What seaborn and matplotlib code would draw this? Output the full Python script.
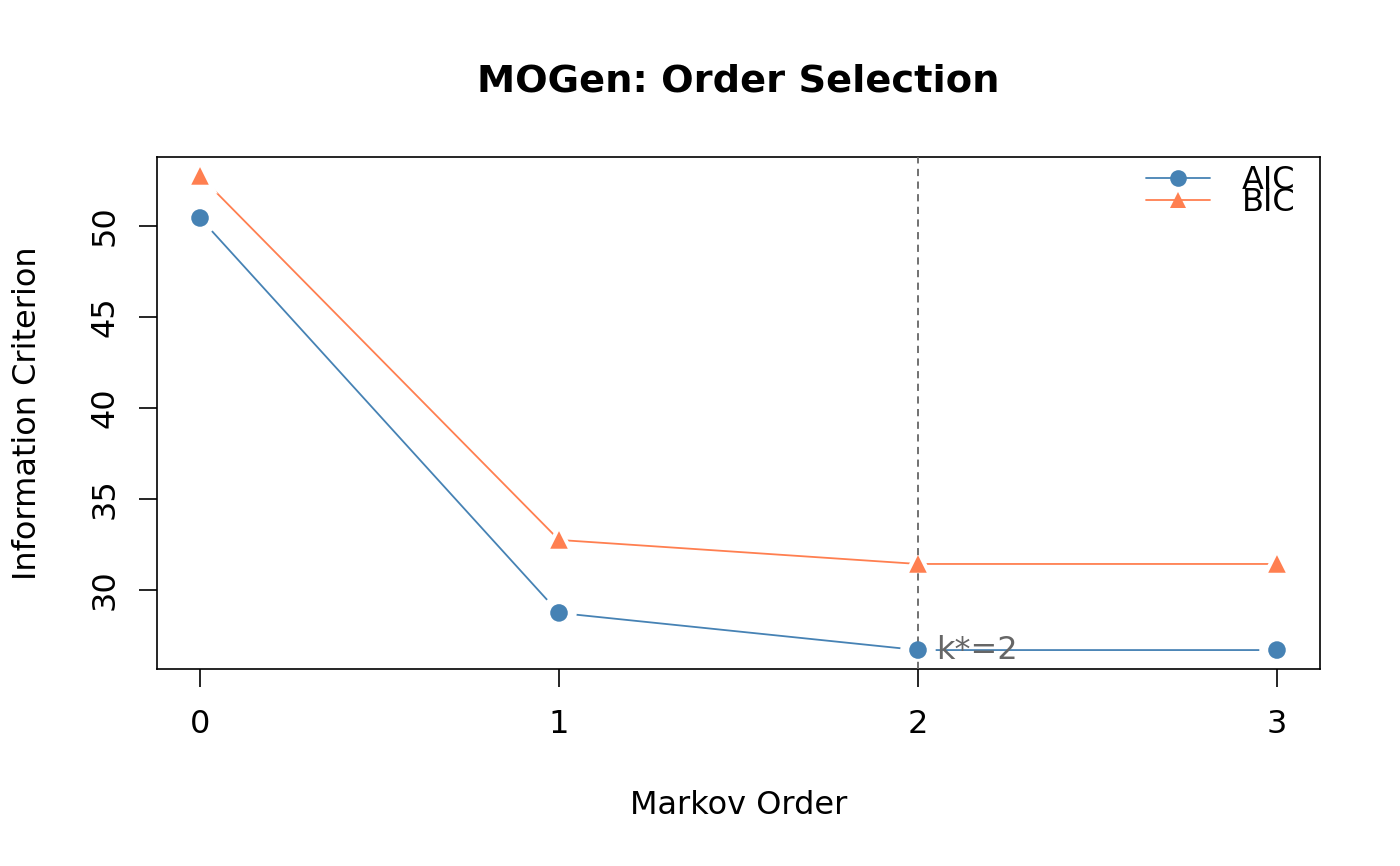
import matplotlib
matplotlib.use("Agg")
import matplotlib.pyplot as plt
import pandas as pd
import seaborn as sns

# data
orders = [0, 1, 2, 3]
aic = [50.44, 28.74, 26.70, 26.70]
bic = [52.75, 32.75, 31.43, 31.43]
best_k = 2

df = pd.DataFrame({"order": orders * 2,
                   "value": aic + bic,
                   "crit": ["AIC"] * 4 + ["BIC"] * 4})

sns.set_style("ticks")
plt.rcParams["font.family"] = ["DejaVu Sans"]
plt.rcParams["text.color"] = "black"
plt.rcParams["axes.labelcolor"] = "black"
plt.rcParams["xtick.color"] = "black"
plt.rcParams["ytick.color"] = "black"

fs = 23  # base font size

fig = plt.figure(figsize=(14, 8.66), dpi=100)
ax = fig.add_axes([0.1121, 0.2275, 0.8308, 0.5912])

pal = {"AIC": "#4682B4", "BIC": "#FF7F50"}
marks = {"AIC": "o", "BIC": "^"}

# lines (R type="b": gaps around points -> white halo markers on top)
sns.lineplot(data=df, x="order", y="value", hue="crit", palette=pal,
             lw=1.3, ax=ax, legend=False, zorder=1)
sns.scatterplot(data=df, x="order", y="value", style="crit", markers=marks,
                color="white", s=650, linewidth=0, ax=ax, legend=False, zorder=2)

# dashed vertical line at the selected order
ax.axvline(best_k, color="#666666", ls=(0, (4, 3)), lw=1.3, zorder=3)

sns.scatterplot(data=df, x="order", y="value", hue="crit", style="crit",
                palette=pal, markers=marks, s=160, linewidth=0, ax=ax,
                legend=False, zorder=4)

ax.text(best_k + 0.05, aic[best_k], "k*=2", color="#666666", fontsize=fs,
        ha="left", va="center", zorder=5)

# axes like base R
ax.set_xlim(-0.12, 3.12)
ax.set_ylim(25.66, 53.79)
ax.set_xticks(orders)
ax.set_yticks([30, 35, 40, 45, 50])
ax.tick_params(axis="both", labelsize=fs, length=13, width=1.2)
ax.tick_params(axis="x", pad=16)
ax.tick_params(axis="y", pad=13)
for lab in ax.get_yticklabels():
    lab.set_rotation(90)
    lab.set_va("center")
for s in ax.spines.values():
    s.set_linewidth(1.2)
    s.set_color("black")

ax.set_xlabel("Markov Order", fontsize=fs, labelpad=36)
ax.set_ylabel("Information Criterion", fontsize=fs, labelpad=34)
fig.suptitle("MOGen: Order Selection", fontsize=27.6, fontweight="bold",
             x=0.527, y=0.927)

# legend, overlapping entries like R
handles = [plt.Line2D([], [], color=pal[c], marker=marks[c], markersize=12,
                      lw=1.3, markeredgewidth=0) for c in ["AIC", "BIC"]]
ax.legend(handles, ["AIC", "BIC"], loc="upper right", frameon=False,
          fontsize=fs, labelspacing=-0.3, handlelength=2.0,
          handletextpad=1.0, borderaxespad=0.15,
          bbox_to_anchor=(0.994, 1.018))

fig.savefig("out.png", dpi=100)
